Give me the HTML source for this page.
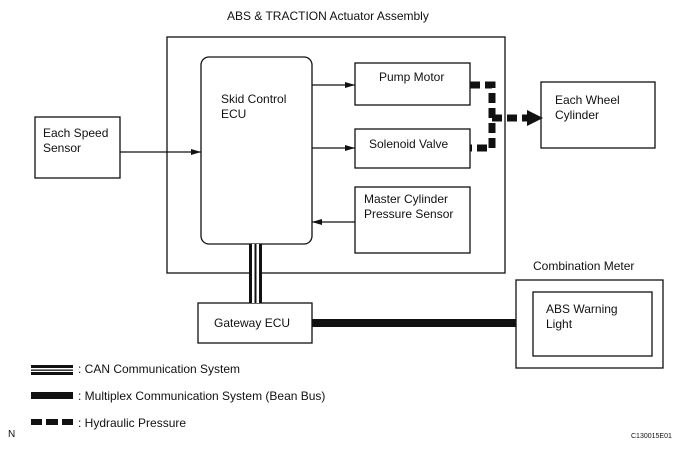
<!DOCTYPE html>
<html><head><meta charset="utf-8"><style>
html,body{margin:0;padding:0;background:#fff}
svg text{font-family:"Liberation Sans",Arial,sans-serif;font-size:12px;fill:#111}
</style></head><body>
<svg width="685" height="449" viewBox="0 0 685 449" xmlns="http://www.w3.org/2000/svg">
<defs><marker id="a" markerWidth="10" markerHeight="6" refX="10" refY="3" orient="auto" markerUnits="userSpaceOnUse"><path d="M0,0 L10,3 L0,6 z" fill="#111"/></marker></defs>
<g fill="none" stroke="#111" stroke-width="1.3">
<text x="227" y="20" stroke="none">ABS &amp; TRACTION Actuator Assembly</text>
<rect x="167" y="37" width="338" height="236"/>
<rect x="201" y="57" width="111" height="187" rx="8"/>
<rect x="355" y="63" width="115" height="42"/>
<rect x="355" y="129" width="115" height="39"/>
<rect x="355" y="187" width="115" height="66"/>
<rect x="35" y="117" width="85" height="61"/>
<rect x="541" y="82" width="114" height="66"/>
<rect x="198" y="303" width="114" height="40"/>
<rect x="516" y="280" width="147" height="88"/>
<rect x="533" y="292" width="119" height="64"/>
<line x1="120" y1="152" x2="201" y2="152" marker-end="url(#a)"/>
<line x1="312" y1="85" x2="355" y2="85" marker-end="url(#a)"/>
<line x1="312" y1="148" x2="355" y2="148" marker-end="url(#a)"/>
<line x1="355" y1="222" x2="312" y2="222" marker-end="url(#a)"/>
</g>
<g stroke="#111" stroke-width="7" fill="none" stroke-dasharray="10,5">
<polyline points="470,85 492,85 492,148 470,148"/>
<line x1="492" y1="118" x2="528" y2="118"/>
</g>
<path d="M527,110 L543,118 L527,126 z" fill="#111"/>
<rect x="249" y="244" width="13" height="59" fill="#111"/>
<rect x="252" y="244" width="2.5" height="59" fill="#fff"/>
<rect x="256.5" y="244" width="2.5" height="59" fill="#fff"/>
<rect x="312" y="319" width="204" height="8" fill="#111"/>
<g>
<text x="221" y="103">Skid Control</text><text x="221" y="118">ECU</text>
<text x="379" y="81">Pump Motor</text>
<text x="369" y="148">Solenoid Valve</text>
<text x="364" y="203">Master Cylinder</text><text x="364" y="218">Pressure Sensor</text>
<text x="43" y="137">Each Speed</text><text x="43" y="152">Sensor</text>
<text x="555" y="104">Each Wheel</text><text x="555" y="119">Cylinder</text>
<text x="214" y="327">Gateway ECU</text>
<text x="533" y="270">Combination Meter</text>
<text x="546" y="313">ABS Warning</text><text x="546" y="328">Light</text>
<text x="78" y="373">: CAN Communication System</text>
<text x="78" y="400">: Multiplex Communication System (Bean Bus)</text>
<text x="78" y="427">: Hydraulic Pressure</text>
<text x="8" y="437" style="font-size:10px">N</text>
<text x="631" y="438" style="font-size:7px">C130015E01</text>
</g>
<rect x="31" y="365" width="42" height="3" fill="#111"/>
<rect x="31" y="369.5" width="42" height="1.3" fill="#111"/>
<rect x="31" y="372" width="42" height="3" fill="#111"/>
<rect x="31" y="392" width="42" height="7" fill="#111"/>
<g fill="#111"><rect x="31" y="419" width="11" height="6"/><rect x="46" y="419" width="12" height="6"/><rect x="62" y="419" width="11" height="6"/></g>
</svg>
</body></html>
